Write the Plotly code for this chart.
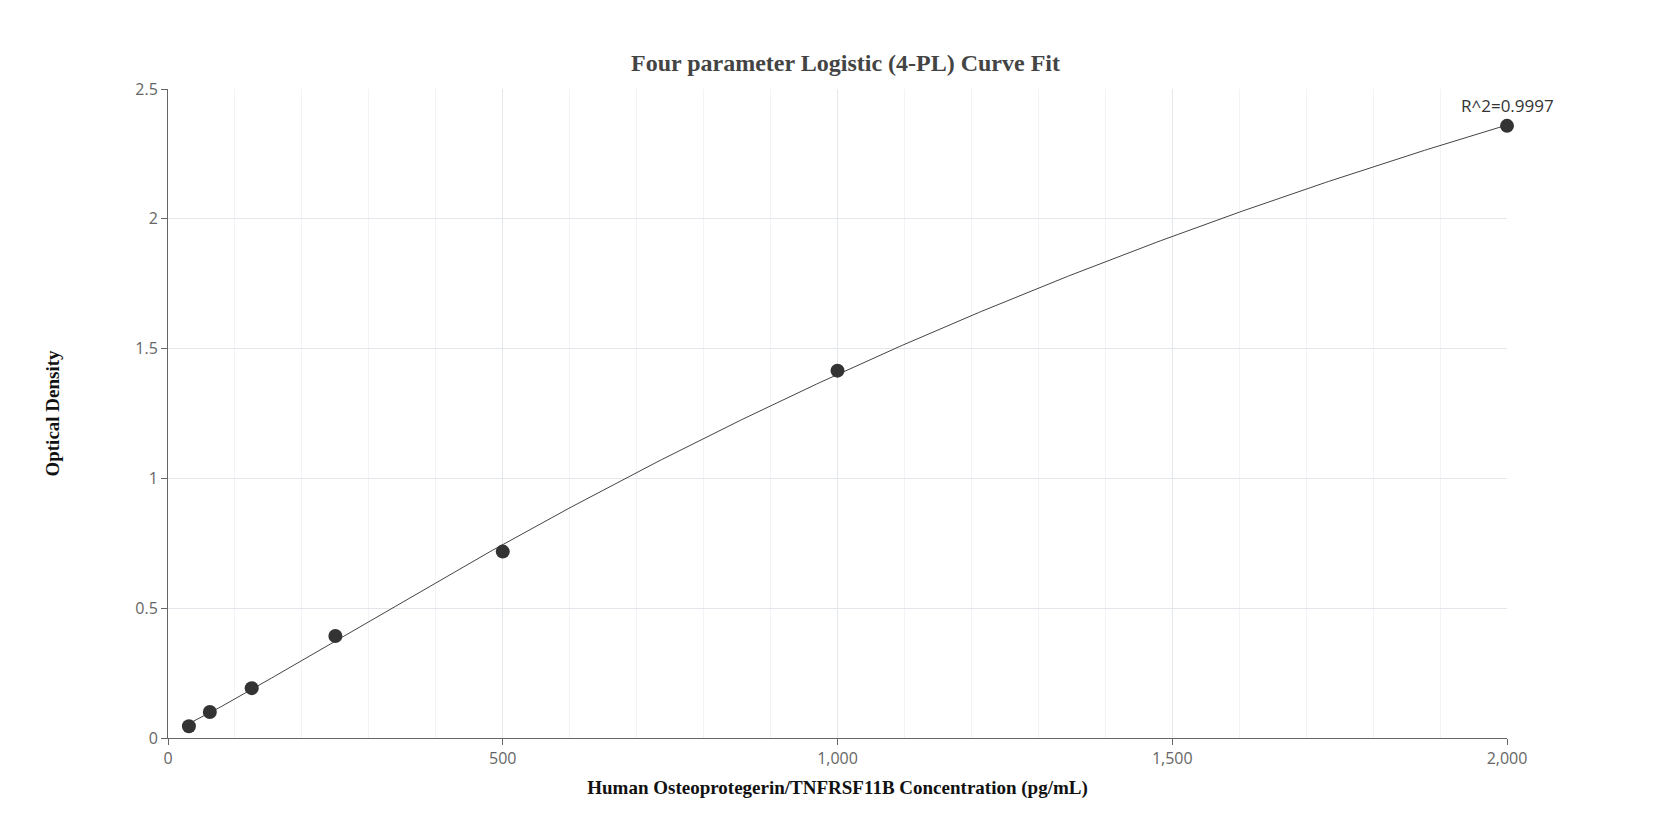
import numpy as np
import plotly.graph_objects as go

conc = [31.25, 62.5, 125, 250, 500, 1000, 2000]
od = [0.045, 0.100, 0.192, 0.393, 0.718, 1.415, 2.358]
r2_label = "R^2=0.9997"

x = np.array(conc, float); y = np.array(od, float)
best = None
for B in np.linspace(0.8, 2.0, 121):
    for C in np.geomspace(300, 20000, 200):
        g = 1.0 / (1.0 + (x / C) ** B)
        M = np.column_stack([1 - g, g])
        coef, *_ = np.linalg.lstsq(M, y, rcond=None)
        err = np.sum((M @ coef - y) ** 2)
        if best is None or err < best[0]:
            best = (err, B, C, coef)
_, B, C, (D, A) = best
xc = np.linspace(min(conc), max(conc), 400)
yc = D + (A - D) / (1 + (xc / C) ** B)

fig = go.Figure()
fig.add_trace(go.Scatter(x=xc, y=yc, mode="lines", line=dict(color="#444", width=1), hoverinfo="skip"))
fig.add_trace(go.Scatter(x=conc, y=od, mode="markers", cliponaxis=False, marker=dict(color="#333", size=14)))
fig.add_annotation(x=conc[-1], y=od[-1], text=r2_label, showarrow=False, yshift=20,
                   font=dict(family="Open Sans", size=17, color="#333"))
fig.update_layout(
    width=1675, height=840, showlegend=False, plot_bgcolor="white", paper_bgcolor="white",
    margin=dict(l=160, r=176, t=81, b=110),
    title=dict(text="<b>Four parameter Logistic (4-PL) Curve Fit</b>", x=0.5, xanchor="center", y=0.945,
               font=dict(family="Liberation Serif", size=24, color="#444")),
    xaxis=dict(range=[0, 2000], tickvals=[0, 500, 1000, 1500, 2000], tickformat=",",
               showgrid=True, gridcolor="#e3e6ea", showline=True, linecolor="#666",
               ticks="outside", ticklen=6, tickcolor="#666",
               minor=dict(dtick=100, showgrid=True, gridcolor="#f2f3f5"),
               tickfont=dict(family="Open Sans", size=16, color="#666"),
               title=dict(text="<b>Human Osteoprotegerin/TNFRSF11B Concentration (pg/mL)</b>", standoff=12,
                          font=dict(family="Liberation Serif", size=19, color="#111")), zeroline=False),
    yaxis=dict(range=[0, 2.5], dtick=0.5, showgrid=True, gridcolor="#e3e6ea", showline=True, linecolor="#666",
               ticks="outside", ticklen=6, tickcolor="#666", zeroline=False,
               tickfont=dict(family="Open Sans", size=16, color="#666"),
               title=dict(text="<b>Optical Density</b>", standoff=70,
                          font=dict(family="Liberation Serif", size=19, color="#111"))),
)
fig.write_html("out.html")
